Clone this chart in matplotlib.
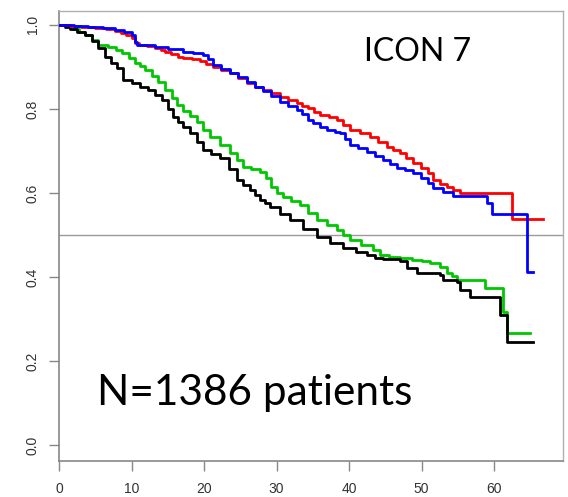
import numpy as np
import matplotlib.pyplot as plt

# ---------- Survival curves (months, proportion surviving) ----------
red_t = [0, 1.5, 3, 5, 6.5, 7.7, 8.5, 9.3, 10.1, 10.5, 11.0, 12.2, 13.2, 14.0, 14.6, 15.5, 16.4, 17.1,
         18.3, 19.4, 20.3, 21.2, 22.4, 23.6, 24.7, 25.9, 27.0, 28.1, 29.3, 30.5, 31.6, 32.8, 33.5, 34.3,
         35.2, 36.0, 37.2, 38.3, 39.2, 40.1, 41.5, 42.9, 44.0, 45.2, 46.1, 47.0, 47.9, 48.8, 49.9, 50.9,
         51.6, 52.6, 53.5, 54.4, 55.3, 62.5, 66.8]
red_s = [1.0, 0.997, 0.995, 0.993, 0.99, 0.985, 0.981, 0.975, 0.969, 0.958, 0.952, 0.95, 0.946, 0.94, 0.936, 0.93, 0.924, 0.921,
         0.919, 0.915, 0.908, 0.9, 0.893, 0.886, 0.874, 0.862, 0.853, 0.845, 0.837, 0.829, 0.822, 0.814, 0.808, 0.802,
         0.793, 0.786, 0.781, 0.774, 0.762, 0.75, 0.742, 0.733, 0.721, 0.71, 0.703, 0.695, 0.683, 0.671, 0.66, 0.648,
         0.631, 0.622, 0.614, 0.607, 0.6, 0.538, 0.538]

blue_t = [0, 2, 4, 6, 7.7, 9, 10.1, 10.5, 10.8, 13.2, 15, 17.1, 18.5, 19.9, 20.5, 21.2, 22.4, 23.6, 24.7,
          25.9, 27, 28.1, 29.3, 30.5, 31.6, 32.8, 33.5, 34.3, 35.0, 36.0, 37.0, 38.0, 38.8, 39.5, 40.1,
          41.3, 42.5, 43.6, 44.7, 45.6, 46.6, 47.7, 48.8, 49.9, 50.9, 51.6, 53.0, 54.3, 59.0, 59.7, 64.6, 65.4]
blue_s = [1.0, 0.997, 0.995, 0.992, 0.988, 0.982, 0.976, 0.96, 0.952, 0.948, 0.942, 0.936, 0.933, 0.929, 0.918, 0.905, 0.895, 0.886, 0.876,
          0.864, 0.853, 0.843, 0.83, 0.817, 0.808, 0.798, 0.787, 0.774, 0.767, 0.758, 0.75, 0.746, 0.743, 0.728, 0.714,
          0.706, 0.698, 0.688, 0.679, 0.67, 0.66, 0.654, 0.648, 0.636, 0.624, 0.612, 0.602, 0.593, 0.576, 0.55, 0.412, 0.412]

green_t = [0, 1, 2, 2.8, 3.6, 4.5, 5.4, 6.8, 7.8, 8.7, 9.6, 10.5, 11.2, 11.9, 12.8, 13.7, 14.6, 15.6, 16.3,
           17.1, 18.0, 19.0, 19.9, 20.8, 22.2, 23.6, 24.5, 25.4, 26.5, 27.7, 28.5, 29.3, 30.1, 30.9, 32.0,
           33.2, 34.4, 35.6, 37.0, 38.3, 39.2, 40.1, 41.7, 43.3, 44.3, 45.5, 47.0, 48.7, 50.0, 51.2, 52.6,
           53.5, 54.2, 54.9, 58.8, 61.2, 61.8, 65.0]
green_s = [1.0, 0.997, 0.99, 0.984, 0.976, 0.965, 0.952, 0.948, 0.94, 0.933, 0.92, 0.91, 0.902, 0.893, 0.879, 0.864, 0.845, 0.826, 0.81,
           0.795, 0.782, 0.769, 0.75, 0.733, 0.714, 0.695, 0.678, 0.662, 0.656, 0.65, 0.635, 0.615, 0.6, 0.59, 0.58,
           0.571, 0.553, 0.536, 0.524, 0.512, 0.5, 0.488, 0.476, 0.464, 0.452, 0.448, 0.445, 0.44, 0.437, 0.433, 0.424,
           0.41, 0.402, 0.393, 0.374, 0.317, 0.267, 0.267]

black_t = [0, 0.8, 1.5, 2.5, 3.6, 4.5, 5.4, 6.3, 7.2, 8.0, 8.8, 10.1, 11.2, 12.3, 13.3, 14.2, 15.0, 15.7, 16.4,
           17.1, 18.1, 19.0, 19.9, 21.0, 22.2, 23.4, 24.6, 25.4, 26.3, 27.0, 27.7, 28.4, 29.1, 30.5, 31.9,
           33.7, 35.6, 37.4, 39.2, 40.9, 42.5, 43.6, 44.7, 47.0, 48.0, 49.4, 52.6, 53.0, 54.9, 55.3, 56.7,
           60.8, 61.8, 65.4]
black_s = [1.0, 0.995, 0.99, 0.983, 0.976, 0.962, 0.945, 0.924, 0.91, 0.898, 0.869, 0.862, 0.853, 0.845, 0.833, 0.821, 0.8, 0.781, 0.768,
           0.757, 0.743, 0.722, 0.702, 0.693, 0.683, 0.657, 0.631, 0.619, 0.607, 0.595, 0.583, 0.575, 0.567, 0.551, 0.536,
           0.515, 0.495, 0.482, 0.469, 0.46, 0.452, 0.446, 0.442, 0.437, 0.421, 0.41, 0.405, 0.393, 0.388, 0.369, 0.352,
           0.31, 0.245, 0.245]

x_ticks = [0, 10, 20, 30, 40, 50, 60]
y_ticks = [0.0, 0.2, 0.4, 0.6, 0.8, 1.0]

# ---------- Plot ----------
fig = plt.figure(figsize=(5.68, 4.97), dpi=100)
ax = fig.add_axes([59/568, 1 - 461/497, 504/568, 450/497])

ax.axhline(0.5, color="#9a9a9a", lw=1.0, zorder=1)

for t, s, c in [(green_t, green_s, "#00c800"), (black_t, black_s, "black"),
                (red_t, red_s, "#ff0000"), (blue_t, blue_s, "#0000ff")]:
    ax.step(t, s, where="post", color=c, lw=2.0, zorder=3)

ax.set_xlim(0, 69.5)
ax.set_ylim(-0.038, 1.033)
ax.set_xticks(x_ticks)
ax.set_yticks(y_ticks)
ax.set_xticklabels([str(v) for v in x_ticks], fontsize=10, color="#333333", family="Liberation Sans")
ax.set_yticklabels(["%.1f" % v for v in y_ticks], fontsize=10, color="#333333",
                   rotation=90, va="center", family="Liberation Sans")
ax.tick_params(direction="out", length=7, width=1, color="#888888")
ax.tick_params(axis="x", pad=8)
ax.tick_params(axis="y", pad=7)

for side in ["left", "bottom"]:
    ax.spines[side].set_color("#888888")
    ax.spines[side].set_linewidth(1.2)
for side in ["top", "right"]:
    ax.spines[side].set_color("#b0b0b0")
    ax.spines[side].set_linewidth(1.0)

ax.text(49.5, 0.935, "ICON 7", fontsize=23, family="Lato", ha="center", va="center")
ax.text(5.2, 0.095, "N=1386 patients", fontsize=30.5, family="Lato", ha="left", va="baseline")

fig.savefig("out.png", dpi=100)
